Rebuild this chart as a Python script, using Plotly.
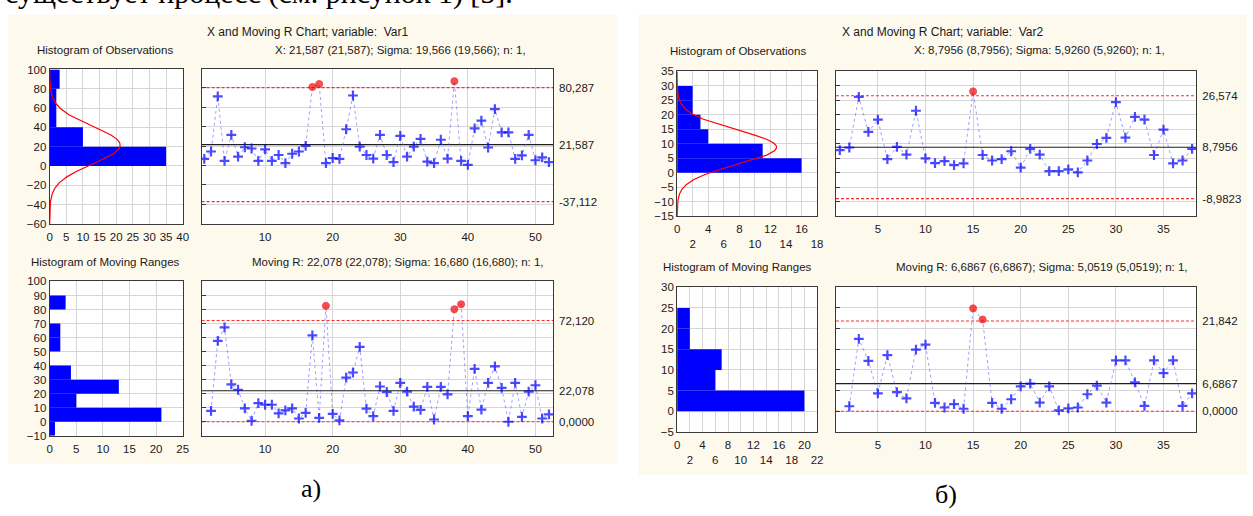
import numpy as np
import plotly.graph_objects as go

W, H = 1253, 516

# ---------------- data : Var1 ----------------
var1_x = [6.8, 14.5, 71.2, 4.8, 31.6, 9.2, 18.9, 17.6, 4.8, 16.6,
          4.8, 10.9, 2.5, 12.2, 14.5, 20.2, 81.0, 84.0, 2.5, 7.8,
          6.8, 37.4, 72.2, 19.6, 10.9, 7.2, 31.6, 10.9, 3.5, 30.6,
          9.2, 19.6, 27.6, 4.1, 2.5, 26.6, 7.2, 87.0, 4.8, 0.8,
          38.4, 46.4, 18.6, 58.2, 34.3, 34.3, 6.8, 10.5, 31.6, 5.5,
          8.5, 3.5]
var1_mr = [7.7, 57.7, 67.2, 26.7, 22.8, 9.5, 0.7, 13.3, 12.1, 12.1,
           6.0, 8.1, 9.5, 2.3, 6.3, 61.6, 2.8, 82.6, 5.6, 0.9,
           31.4, 35.1, 53.3, 9.3, 4.0, 25.1, 21.2, 7.7, 27.7, 21.4,
           10.7, 8.4, 24.9, 1.6, 24.9, 19.5, 80.2, 83.7, 4.0, 37.7,
           8.6, 27.7, 39.5, 24.2, 0.0, 27.7, 3.5, 21.4, 26.0, 2.3, 5.3]
var1_mean, var1_sigma = 21.587, 19.566
var1_x_limits = [80.287, 21.587, -37.112]
var1_x_limit_labels = ["80,287", "21,587", "-37,112"]
var1_mr_limits = [72.120, 22.078, 0.0]
var1_mr_limit_labels = ["72,120", "22,078", "0,0000"]
var1_hx_edges = [0, 20, 40, 60, 80]
var1_hx_counts = [35, 10, 2, 2, 3]
var1_hx_width = 20
var1_hmr_edges = [-10, 0, 10, 20, 30, 50, 60, 80]
var1_hmr_counts = [1, 21, 5, 13, 4, 2, 2, 3]
var1_hmr_width = 10
var1_title = "X and Moving R Chart; variable:  Var1"
var1_sub_x = "X: 21,587 (21,587); Sigma: 19,566 (19,566); n: 1,"
var1_sub_mr = "Moving R: 22,078 (22,078); Sigma: 16,680 (16,680); n: 1,"

# ---------------- data : Var2 ----------------
var2_x = [7.8, 8.7, 26.2, 14.1, 18.3, 4.7, 8.9, 6.2, 21.4, 4.9,
          3.3, 4.0, 2.6, 3.2, 28.1, 6.1, 4.2, 4.7, 7.4, 1.7,
          8.2, 6.2, 0.5, 0.5, 1.1, 0.1, 4.2, 9.9, 12.0, 24.4,
          12.1, 19.3, 18.3, 6.1, 14.9, 3.2, 4.2, 8.2]
var2_mr = [1.2, 17.5, 12.2, 4.3, 13.6, 4.6, 3.1, 14.9, 16.1, 2.0,
           0.9, 1.7, 0.6, 24.9, 22.2, 2.0, 0.6, 2.9, 6.0, 6.7,
           2.1, 6.0, 0.2, 0.7, 0.9, 4.1, 6.2, 2.1, 12.3, 12.3,
           7.0, 1.3, 12.3, 9.2, 12.3, 1.3, 4.3]
var2_mean, var2_sigma = 8.7956, 5.9260
var2_x_limits = [26.574, 8.7956, -8.9823]
var2_x_limit_labels = ["26,574", "8,7956", "-8,9823"]
var2_mr_limits = [21.842, 6.6867, 0.0]
var2_mr_limit_labels = ["21,842", "6,6867", "0,0000"]
var2_hx_edges = [0, 5, 10, 15, 20, 25]
var2_hx_counts = [16, 11, 4, 3, 2, 2]
var2_hx_width = 5
var2_hmr_edges = [0, 5, 10, 15, 20]
var2_hmr_counts = [20, 6, 7, 2, 2]
var2_hmr_width = 5
var2_title = "X and Moving R Chart; variable:  Var2"
var2_sub_x = "X: 8,7956 (8,7956); Sigma: 5,9260 (5,9260); n: 1,"
var2_sub_mr = "Moving R: 6,6867 (6,6867); Sigma: 5,0519 (5,0519); n: 1,"

top_text = "существует процесс (см. рисунок 1) [5]."
label_a = "а)"
label_b = "б)"

# ---------------- helpers ----------------
def fx(p):
    return p / W

def fy(p):
    return 1 - p / H

FONT = "Liberation Sans, Arial, sans-serif"
TXT = "#1a1a1a"
AX = dict(showline=True, mirror=True, linecolor="#3a3a3a", linewidth=1,
          gridcolor="#d6d6d6", gridwidth=1, zeroline=False,
          tickfont=dict(family=FONT, size=11.5, color=TXT), ticks="",
          tickangle=0, fixedrange=True)

layout = {}
traces = []
shapes = []
annotations = []
cnt = {"x": 0, "y": 0}


def new_axis(kind, **kw):
    cnt[kind] += 1
    k = cnt[kind]
    name = f"{kind}axis" if k == 1 else f"{kind}axis{k}"
    ref = kind if k == 1 else f"{kind}{k}"
    layout[name] = kw
    return name, ref


def white_box(x0, x1, y0, y1):
    shapes.append(dict(type="rect", xref="paper", yref="paper", layer="below",
                       x0=fx(x0), x1=fx(x1), y0=fy(y1), y1=fy(y0),
                       fillcolor="white", line=dict(width=0)))


def histogram(box, xrange, xdtick, yrange, ydtick, edges, counts, width,
              mean=None, sigma=None, n=None, ticktext=None):
    x0, x1, y0, y1 = box
    white_box(x0, x1, y0, y1)
    xkw = dict(AX, domain=[fx(x0), fx(x1)], range=xrange, showgrid=True,
               ticklabelstandoff=2)
    if ticktext is None:
        xkw.update(tick0=0, dtick=xdtick)
    else:
        xkw.update(tickmode="array", tickvals=ticktext[0], ticktext=ticktext[1])
    xn, xr = new_axis("x", **xkw)
    yn, yr = new_axis("y", **dict(AX, domain=[fy(y1), fy(y0)], range=yrange,
                                  tick0=0, dtick=ydtick, showgrid=True))
    layout[xn]["anchor"] = yr
    layout[yn]["anchor"] = xr
    traces.append(go.Bar(orientation="h", y=[e + width / 2 for e in edges],
                         x=counts, width=[width] * len(edges), base=0,
                         marker=dict(color="#0000ff", line=dict(width=0)),
                         xaxis=xr, yaxis=yr, hoverinfo="skip"))
    if mean is not None:
        yy = np.linspace(yrange[0], yrange[1], 500)
        xx = n * width / (sigma * np.sqrt(2 * np.pi)) * np.exp(-0.5 * ((yy - mean) / sigma) ** 2)
        traces.append(go.Scatter(x=xx, y=yy, mode="lines",
                                 line=dict(color="#ff0000", width=1.2),
                                 xaxis=xr, yaxis=yr, hoverinfo="skip"))


def control(box, xrange, xticks, yrange, ydtick, xs, vals, limits, labels):
    x0, x1, y0, y1 = box
    white_box(x0, x1, y0, y1)
    xn, xr = new_axis("x", **dict(AX, domain=[fx(x0), fx(x1)], range=xrange,
                                  tickmode="array", tickvals=xticks, showgrid=True,
                                  ticklabelstandoff=2))
    yn, yr = new_axis("y", **dict(AX, domain=[fy(y1), fy(y0)], range=yrange,
                                  tick0=0, dtick=ydtick, showgrid=True,
                                  showticklabels=False, ticks="inside",
                                  ticklen=4, tickcolor="#3a3a3a"))
    on, orr = new_axis("y", **dict(AX, range=yrange, overlaying=yr, side="right",
                                   tickmode="array", tickvals=limits,
                                   ticktext=labels, showgrid=False,
                                   showline=False, ticklabelstandoff=5))
    layout[xn]["anchor"] = yr
    layout[yn]["anchor"] = xr
    layout[on]["anchor"] = xr
    ucl, cl, lcl = limits
    for v, col, dash in [(ucl, "#ff2a2a", "3px,2px"), (cl, "#1e1e1e", "solid"),
                         (lcl, "#ff2a2a", "3px,2px")]:
        traces.append(go.Scatter(x=[xrange[0], xrange[1]], y=[v, v], mode="lines",
                                 line=dict(color=col, width=1.1, dash=dash),
                                 xaxis=xr, yaxis=yr, hoverinfo="skip"))
    out = [(v > ucl) or (v < lcl) for v in vals]
    traces.append(go.Scatter(
        x=xs, y=vals, mode="lines+markers",
        line=dict(color="rgba(90,90,255,0.65)", width=0.9, dash="dot"),
        marker=dict(symbol=["circle" if o else "cross-thin" for o in out],
                    size=[7 if o else 7 for o in out],
                    color=["#ff0000" if o else "#0000ff" for o in out],
                    line=dict(color=["#e00000" if o else "#0000ff" for o in out],
                              width=[1 if o else 2.2 for o in out])),
        xaxis=xr, yaxis=orr, hoverinfo="skip"))


def note(text, x, y, size=11.5, family=FONT, xanchor="center", yanchor="middle", color=TXT):
    annotations.append(dict(text=text, x=fx(x), y=fy(y), xref="paper", yref="paper",
                            showarrow=False, xanchor=xanchor, yanchor=yanchor,
                            font=dict(family=family, size=size, color=color)))


# ---------------- panel backgrounds ----------------
CREAM = "#fef9ed"
shapes.append(dict(type="rect", xref="paper", yref="paper", layer="below",
                   x0=fx(5), x1=fx(618), y0=fy(469), y1=fy(9),
                   fillcolor=CREAM, line=dict(width=0)))
shapes.append(dict(type="rect", xref="paper", yref="paper", layer="below",
                   x0=fx(640), x1=fx(1253), y0=fy(480), y1=fy(9),
                   fillcolor=CREAM, line=dict(width=0)))

# ---------------- Var1 panel ----------------
histogram((47, 181, 65, 223), [0, 40], 5, [-60, 100], 20,
          var1_hx_edges, var1_hx_counts, var1_hx_width,
          mean=var1_mean, sigma=var1_sigma, n=len(var1_x))
control((200, 554, 64, 223), [0.6, 52.6], [10, 20, 30, 40, 50], [-60, 100], 20,
        list(range(1, len(var1_x) + 1)), var1_x, var1_x_limits, var1_x_limit_labels)
histogram((47, 181, 282, 440), [0, 25], 5, [-10, 100], 10,
          var1_hmr_edges, var1_hmr_counts, var1_hmr_width)
control((200, 554, 282, 440), [0.6, 52.6], [10, 20, 30, 40, 50], [-10, 100], 10,
        list(range(2, len(var1_mr) + 2)), var1_mr, var1_mr_limits, var1_mr_limit_labels)

# ---------------- Var2 panel ----------------
stag_vals = list(range(0, 20, 2))
stag_obs = [str(v) if (v // 2) % 2 == 0 else " <br>" + str(v) for v in stag_vals]
histogram((679, 820, 67, 215), [0, 18], 2, [-15, 35], 5,
          var2_hx_edges, var2_hx_counts, var2_hx_width,
          mean=var2_mean, sigma=var2_sigma, n=len(var2_x),
          ticktext=(stag_vals, stag_obs))
control((839, 1202, 67, 215), [0.6, 38.45], [5, 10, 15, 20, 25, 30, 35], [-15, 35], 5,
        list(range(1, len(var2_x) + 1)), var2_x, var2_x_limits, var2_x_limit_labels)
stag_vals2 = list(range(0, 24, 2))
stag_mr = [str(v) if (v // 2) % 2 == 0 else " <br>" + str(v) for v in stag_vals2]
histogram((679, 820, 288, 436), [0, 22], 2, [-5, 30], 5,
          var2_hmr_edges, var2_hmr_counts, var2_hmr_width,
          ticktext=(stag_vals2, stag_mr))
control((839, 1202, 288, 436), [0.6, 38.45], [5, 10, 15, 20, 25, 30, 35], [-5, 30], 5,
        list(range(2, len(var2_mr) + 2)), var2_mr, var2_mr_limits, var2_mr_limit_labels)

# ---------------- texts ----------------
note(var1_title, 307, 27, size=12)
note("Histogram of Observations", 103, 45)
note(var1_sub_x, 400, 45)
note("Histogram of Moving Ranges", 103, 262)
note(var1_sub_mr, 398, 262)

note(var2_title, 947, 27, size=12)
note("Histogram of Observations", 740, 46)
note(var2_sub_x, 1044, 45)
note("Histogram of Moving Ranges", 740, 267)
note(var2_sub_mr, 1047, 267)

SERIF = "Liberation Serif, Times New Roman, serif"
note(label_a, 310, 494, size=26, family=SERIF, color="#000")
note(label_b, 950, 500, size=26, family=SERIF, color="#000")
note(top_text, 516, 6, size=30, family=SERIF, xanchor="right", yanchor="bottom", color="#000")

fig = go.Figure(data=traces)
fig.update_layout(**layout)
fig.update_layout(width=W, height=H, margin=dict(l=0, r=0, t=0, b=0),
                  paper_bgcolor="white", plot_bgcolor="white",
                  showlegend=False, shapes=shapes, annotations=annotations,
                  barmode="overlay")
fig.write_html("out.html", config={"displayModeBar": False},
               post_script="document.body.style.margin='0';document.body.style.overflow='hidden';")
